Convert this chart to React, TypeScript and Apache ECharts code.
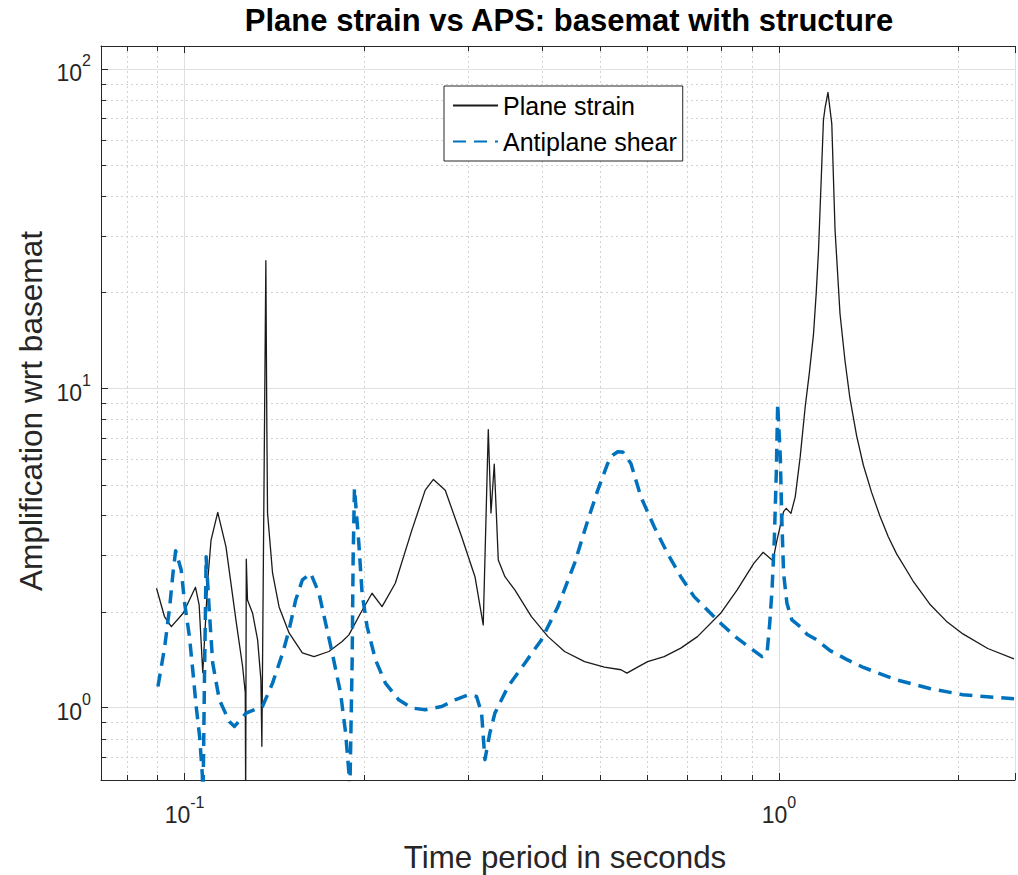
import React, { useEffect, useRef } from "react";
import * as echarts from "echarts";

// ---- data (period in s, amplification) ----
const PLANE_STRAIN: [number, number][] = [
  [0.0897, 2.366], [0.0925, 1.93], [0.095, 1.795], [0.0995, 1.98], [0.1043, 2.384], [0.1058, 2.1],
  [0.1073, 1.289], [0.1094, 2.512], [0.1108, 3.35], [0.1137, 4.09], [0.1174, 3.19], [0.122, 1.884],
  [0.1252, 1.346], [0.1265, 1.114], [0.1267, 0.5], [0.127, 2.92], [0.1276, 2.175], [0.1301, 1.981],
  [0.1327, 1.631], [0.1344, 1.223], [0.1349, 0.757], [0.137, 25.1], [0.1375, 7.94],
  [0.1379, 4.07], [0.1406, 2.642], [0.1442, 2.068], [0.1499, 1.715], [0.1578, 1.485],
  [0.1651, 1.446], [0.1749, 1.5], [0.1841, 1.612], [0.189, 1.691], [0.1977, 1.976],
  [0.2067, 2.283], [0.2149, 2.073], [0.2262, 2.453], [0.2412, 3.6], [0.254, 4.8],
  [0.2622, 5.185], [0.2745, 4.8], [0.2925, 3.43], [0.308, 2.572], [0.318, 1.817],
  [0.3243, 7.43], [0.3277, 4.07], [0.3319, 5.79], [0.3371, 2.9], [0.3459, 2.572],
  [0.3594, 2.338], [0.3833, 1.929], [0.4087, 1.67], [0.4358, 1.5], [0.4709, 1.395],
  [0.5085, 1.34], [0.5422, 1.315], [0.5548, 1.284], [0.5783, 1.34], [0.6012, 1.395],
  [0.641, 1.446], [0.6836, 1.537], [0.7292, 1.67], [0.7976, 1.976], [0.8505, 2.338],
  [0.9071, 2.833], [0.9401, 3.067], [0.977, 2.886], [0.9923, 3.35], [1.018, 4.11],
  [1.0286, 4.21], [1.0474, 4.06], [1.065, 4.575], [1.0856, 6.1], [1.1068, 8.74],
  [1.125, 11.2], [1.143, 14.75], [1.155, 19.8], [1.1655, 27.0], [1.18, 49.6], [1.188, 69.3],
  [1.196, 76], [1.209, 84.5], [1.227, 67.3], [1.2425, 31.4], [1.2666, 17.15], [1.291, 12.27],
  [1.316, 9.33], [1.351, 7.1], [1.3867, 5.745], [1.432, 4.715], [1.4778, 3.99], [1.527, 3.43],
  [1.5765, 3.038], [1.681, 2.493], [1.7925, 2.113], [1.912, 1.867], [2.039, 1.703],
  [2.245, 1.533], [2.485, 1.423],
];

const ANTIPLANE_SHEAR: [number, number][] = [
  [0.0902, 1.166], [0.0926, 1.554], [0.0944, 2.073], [0.0956, 2.636], [0.0966, 3.1],
  [0.0987, 2.7], [0.1, 2.13], [0.1019, 1.67], [0.1032, 1.315], [0.1046, 1.009],
  [0.106, 0.813], [0.1071, 0.618], [0.1074, 0.516], [0.108, 1.223], [0.1084, 1.981],
  [0.1087, 2.971], [0.1101, 1.981], [0.1115, 1.382], [0.1144, 1.059], [0.1189, 0.906],
  [0.1213, 0.874], [0.1269, 0.962], [0.1352, 1.009], [0.1406, 1.194], [0.1462, 1.482],
  [0.1499, 1.753], [0.1538, 2.175], [0.1578, 2.512], [0.163, 2.636], [0.1683, 2.283],
  [0.1727, 1.839], [0.1772, 1.482], [0.183, 1.111], [0.1866, 0.834], [0.189, 0.625],
  [0.1896, 0.516], [0.1914, 1.413], [0.1921, 2.9], [0.1931, 4.86], [0.1964, 3.27],
  [0.1989, 2.283], [0.2028, 1.795], [0.2095, 1.413], [0.2177, 1.194], [0.2292, 1.059],
  [0.2412, 0.998], [0.254, 0.986], [0.2708, 1.009], [0.2852, 1.059], [0.3002, 1.098],
  [0.3099, 1.085], [0.316, 0.962], [0.3201, 0.688], [0.3263, 0.834], [0.3327, 0.962],
  [0.3413, 1.059], [0.3502, 1.166], [0.3736, 1.379], [0.3983, 1.631], [0.4247, 2.073],
  [0.453, 2.833], [0.477, 3.868], [0.4956, 4.8], [0.5151, 5.82], [0.5251, 6.175],
  [0.5353, 6.33], [0.5458, 6.32], [0.5635, 5.82], [0.5857, 4.575], [0.6167, 3.686],
  [0.6492, 3.044], [0.6836, 2.572], [0.7197, 2.228], [0.7481, 2.073], [0.7976, 1.839],
  [0.8505, 1.651], [0.8953, 1.537], [0.9365, 1.446], [0.9548, 1.482], [0.9648, 1.839],
  [0.9734, 2.338], [0.982, 3.35], [0.9896, 5.41], [0.995, 8.96], [1.005, 6.1],
  [1.0116, 3.776], [1.018, 2.636], [1.0313, 2.124], [1.0514, 1.884], [1.0856, 1.795],
  [1.114, 1.7], [1.158, 1.63], [1.219, 1.51], [1.2966, 1.42], [1.3867, 1.337],
  [1.5765, 1.223], [1.7925, 1.149], [2.039, 1.098], [2.485, 1.067],
];

const X_MINOR = [0.08, 0.09, 0.2, 0.3, 0.4, 0.5, 0.6, 0.7, 0.8, 0.9, 2];
const Y_MINOR = [0.7, 0.8, 0.9, 2, 3, 4, 5, 6, 7, 8, 9, 20, 30, 40, 50, 60, 70, 80, 90];

const X_MIN = 0.07234;
const X_MAX = 2.495;
const Y_MIN = 0.594;
const Y_MAX = 118;

const TITLE = "Plane strain vs APS: basemat with structure";
const X_NAME = "Time period in seconds";
const Y_NAME = "Amplification wrt basemat";
const SERIES_NAMES = ["Plane strain", "Antiplane shear"];

const FONT = '"Liberation Sans", Arial, Helvetica, sans-serif';
const AXIS = "#262626";
const MAJOR_GRID = "#dfdfdf";
const MINOR_GRID = "#d2d2d2";

const powLabel = (v: number) => {
  const e = Math.log10(v);
  const r = Math.round(e);
  if (Math.abs(e - r) > 1e-6) return "";
  return `{b|10}{s|${r}}`;
};

const rich = {
  b: { fontSize: 23, color: AXIS, fontFamily: FONT, padding: [9, 0, 0, 0], verticalAlign: "bottom" },
  s: { fontSize: 16, color: AXIS, fontFamily: FONT, verticalAlign: "top" },
};

export default function App() {
  const ref = useRef<HTMLDivElement>(null);
  useEffect(() => {
    document.body.style.margin = "0";
    const chart = echarts.init(ref.current!, null, { renderer: "svg" });

    const xMinorSeries = {
      type: "custom",
      silent: true,
      z: 1,
      data: X_MINOR.map((v) => [v, 1]),
      encode: { x: 0, y: 1 },
      renderItem: (params: any, api: any) => {
        const cs = params.coordSys;
        const x = Math.round(api.coord([api.value(0), 1])[0]) + 0.5;
        const top = cs.y;
        const bot = cs.y + cs.height;
        return {
          type: "group",
          children: [
            { type: "line", shape: { x1: x, y1: top, x2: x, y2: bot }, style: { stroke: MINOR_GRID, lineWidth: 1, lineDash: [2, 3] } },
            { type: "line", shape: { x1: x, y1: bot, x2: x, y2: bot - 5 }, style: { stroke: AXIS, lineWidth: 1 } },
            { type: "line", shape: { x1: x, y1: top, x2: x, y2: top + 5 }, style: { stroke: AXIS, lineWidth: 1 } },
          ],
        };
      },
    };

    const yMinorSeries = {
      type: "custom",
      silent: true,
      z: 1,
      data: Y_MINOR.map((v) => [1, v]),
      encode: { x: 0, y: 1 },
      renderItem: (params: any, api: any) => {
        const cs = params.coordSys;
        const y = Math.round(api.coord([1, api.value(1)])[1]) + 0.5;
        const left = cs.x;
        const right = cs.x + cs.width;
        return {
          type: "group",
          children: [
            { type: "line", shape: { x1: left, y1: y, x2: right, y2: y }, style: { stroke: MINOR_GRID, lineWidth: 1, lineDash: [2, 3] } },
            { type: "line", shape: { x1: left, y1: y, x2: left + 5, y2: y }, style: { stroke: AXIS, lineWidth: 1 } },
          ],
        };
      },
    };

    const axisCommon = {
      type: "log",
      logBase: 10,
      axisLine: { show: true, onZero: false, lineStyle: { color: AXIS, width: 1 } },
      axisTick: { show: true, inside: true, length: 7, lineStyle: { color: AXIS, width: 1 } },
      minorTick: { show: false },
      minorSplitLine: { show: false },
    };

    chart.setOption({
      animation: false,
      backgroundColor: "#ffffff",
      grid: { left: 101, top: 46, width: 918, height: 734, containLabel: false },
      xAxis: [
        {
          ...axisCommon,
          position: "bottom",
          min: X_MIN,
          max: X_MAX,
          axisLabel: { show: true, formatter: powLabel, rich, margin: 14, interval: 0 },
          splitLine: { show: true, lineStyle: { color: MAJOR_GRID, width: 1 } },
        },
        {
          ...axisCommon,
          position: "top",
          min: X_MIN,
          max: X_MAX,
          axisLabel: { show: false },
          splitLine: { show: false },
        },
      ],
      yAxis: [
        {
          ...axisCommon,
          position: "left",
          min: Y_MIN,
          max: Y_MAX,
          axisLabel: { show: true, formatter: powLabel, rich, margin: 10, interval: 0 },
          splitLine: { show: true, lineStyle: { color: MAJOR_GRID, width: 1 } },
        },
      ],
      legend: {
        orient: "vertical",
        left: 444,
        top: 86,
        itemWidth: 45,
        itemHeight: 14,
        itemGap: 11,
        padding: [7, 6, 7, 8],
        borderColor: AXIS,
        borderWidth: 1,
        backgroundColor: "#ffffff",
        selectedMode: false,
        itemStyle: { opacity: 0 },
        textStyle: { fontSize: 25, color: "#000000", fontFamily: FONT },
        data: SERIES_NAMES,
      },
      graphic: [
        {
          type: "text",
          x: 569,
          y: 20,
          style: { text: TITLE, font: `bold 31px ${FONT}`, fill: "#000000", textAlign: "center", textVerticalAlign: "middle" },
        },
        {
          type: "text",
          x: 565,
          y: 857,
          style: { text: X_NAME, font: `31.3px ${FONT}`, fill: AXIS, textAlign: "center", textVerticalAlign: "middle" },
        },
        {
          type: "text",
          x: 31,
          y: 411,
          rotation: Math.PI / 2,
          style: { text: Y_NAME, font: `31.6px ${FONT}`, fill: AXIS, textAlign: "center", textVerticalAlign: "middle" },
        },
      ],
      series: [
        xMinorSeries,
        yMinorSeries,
        {
          name: SERIES_NAMES[0],
          type: "line",
          z: 3,
          data: PLANE_STRAIN,
          symbol: "none",
          smooth: false,
          clip: true,
          lineStyle: { color: "#1a1a1a", width: 1.3, join: "round" },
          itemStyle: { color: "#1a1a1a" },
        },
        {
          name: SERIES_NAMES[1],
          type: "line",
          z: 4,
          data: ANTIPLANE_SHEAR,
          symbol: "none",
          smooth: false,
          clip: true,
          lineStyle: { color: "#0072BD", width: 3.5, type: [13, 8], cap: "butt", join: "round" },
          itemStyle: { color: "#0072BD" },
        },
      ],
    });
    return () => chart.dispose();
  }, []);
  return <div ref={ref} style={{ width: 1018, height: 875 }} />;
}
